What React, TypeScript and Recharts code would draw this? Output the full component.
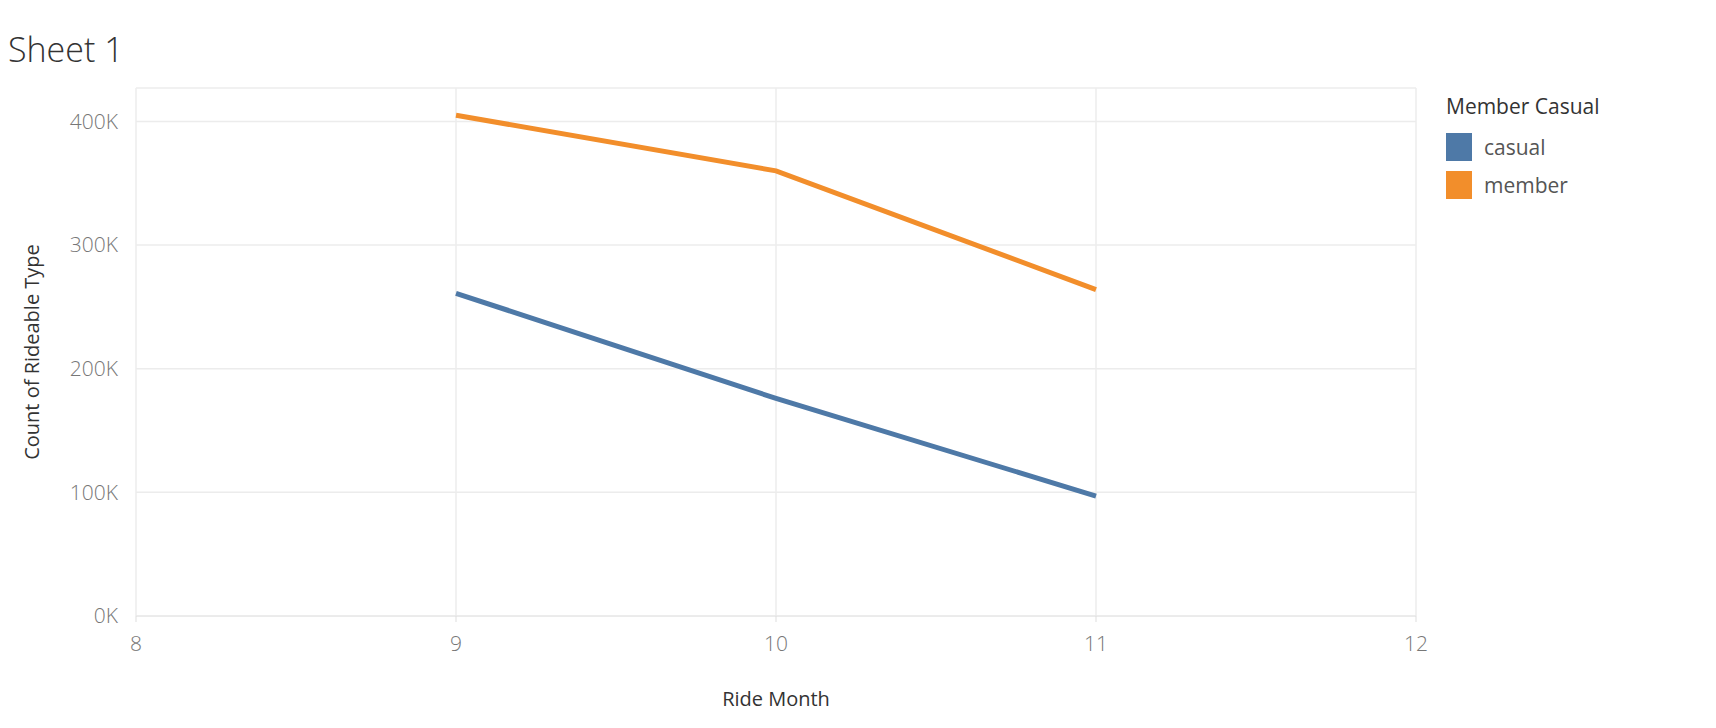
import { CartesianGrid, Line, LineChart, XAxis, YAxis } from "recharts";

const months = [9, 10, 11];
const casual = [261000, 176000, 97000];
const member = [405000, 360000, 264000];
const xTicks = [8, 9, 10, 11, 12];
const yTicks = [0, 100000, 200000, 300000, 400000];

const data = months.map((m, i) => ({ month: m, casual: casual[i], member: member[i] }));

const font = "'Open Sans', sans-serif";
const tickStyle = { fill: "#777", fontSize: 21, fontWeight: 300, fontFamily: font };

export default function App() {
  return (
    <div style={{ position: "relative", width: 1700, height: 712, fontFamily: font }}>
      <div style={{ position: "absolute", left: 0, top: 18, fontSize: 34, fontWeight: 300, color: "#333" }}>
        Sheet 1
      </div>
      <LineChart width={1700} height={712} data={data} margin={{ top: 80, right: 292, left: 0, bottom: 0 }}>
        <CartesianGrid stroke="#ececec" strokeWidth={1.5} />
        <XAxis
          dataKey="month"
          type="number"
          domain={[8, 12]}
          ticks={xTicks}
          tick={tickStyle}
          tickLine={{ stroke: "#ddd" }}
          axisLine={{ stroke: "#e6e6e6" }}
          height={104}
          tickMargin={14}
          label={{ value: "Ride Month", position: "insideBottom", offset: 14, fill: "#333", fontSize: 20, fontFamily: font }}
        />
        <YAxis
          type="number"
          domain={[0, 427000]}
          ticks={yTicks}
          tick={tickStyle}
          tickFormatter={(v) => `${v / 1000}K`}
          tickLine={false}
          axisLine={false}
          width={128}
          tickMargin={12}
          label={{ value: "Count of Rideable Type", angle: -90, position: "insideLeft", offset: 24, fill: "#333", fontSize: 20, fontFamily: font, style: { textAnchor: "middle" } }}
        />
        <Line dataKey="casual" stroke="#4e79a7" strokeWidth={5} dot={false} isAnimationActive={false} />
        <Line dataKey="member" stroke="#f28e2b" strokeWidth={5} dot={false} isAnimationActive={false} />
      </LineChart>
      <div style={{ position: "absolute", left: 1438, top: 84, color: "#333" }}>
        <div style={{ fontSize: 21, marginBottom: 8 }}>Member Casual</div>
        {[["casual", "#4e79a7"], ["member", "#f28e2b"]].map(([n, c]) => (
          <div key={n} style={{ display: "flex", alignItems: "center", height: 38, fontSize: 21, color: "#555" }}>
            <span style={{ width: 26, height: 28, background: c, marginRight: 12, display: "inline-block" }} />
            {n}
          </div>
        ))}
      </div>
    </div>
  );
}
